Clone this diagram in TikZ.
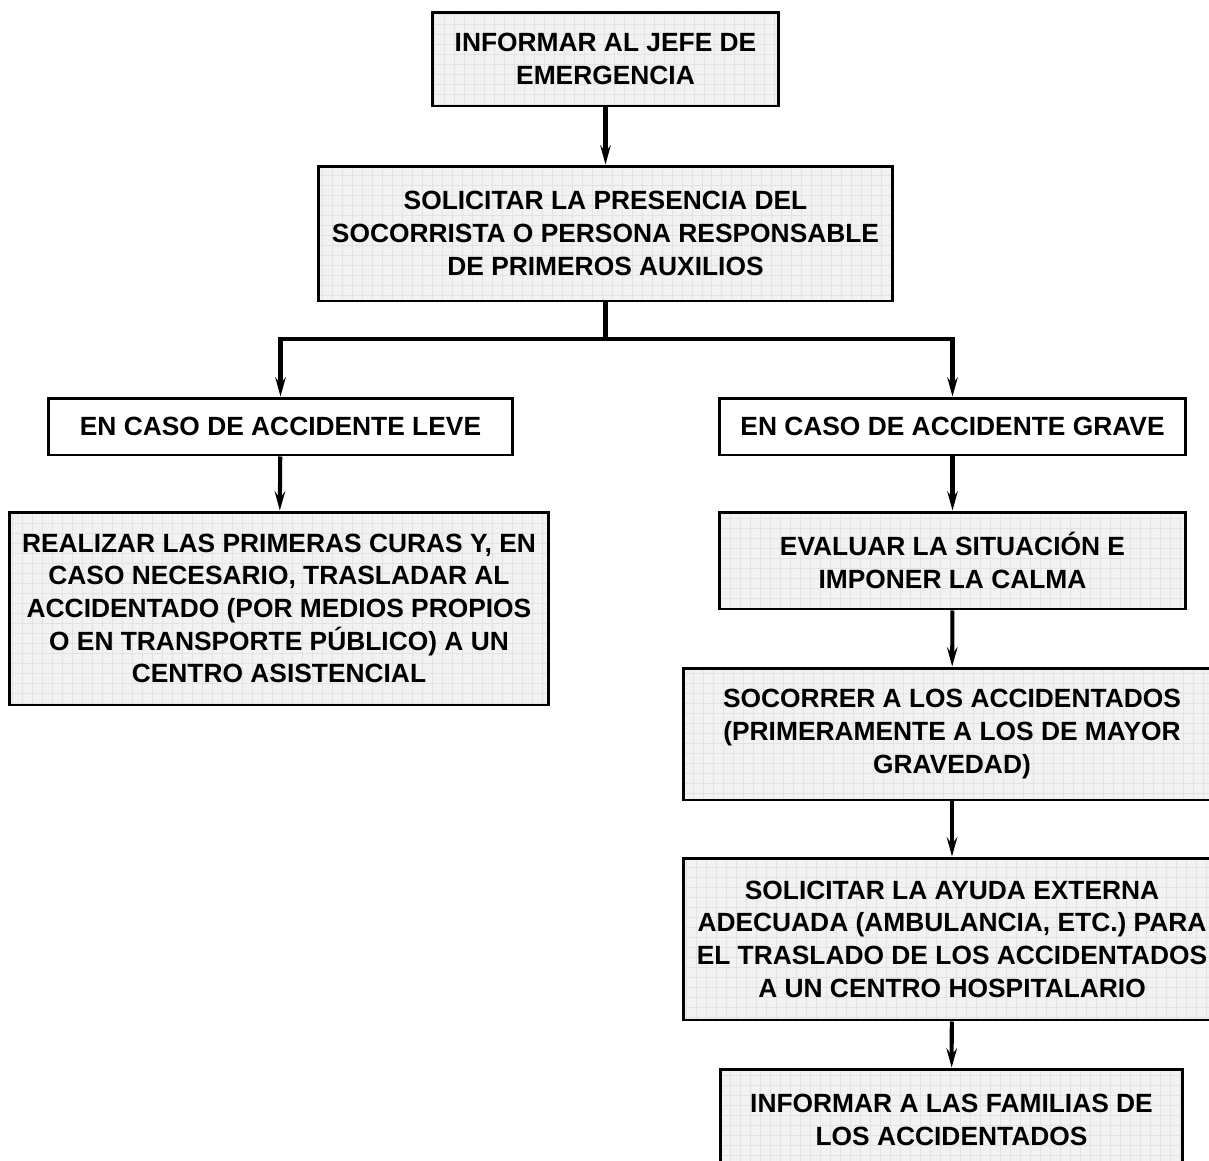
\documentclass[tikz,border=0pt]{standalone}
\usepackage{fontspec}
\setmainfont{Liberation Sans}
\usetikzlibrary{arrows.meta}

\begin{document}
\begin{tikzpicture}[
        x=0.02cm, y=-0.02cm, % one unit = one pixel of the sketch
        stepbox/.style={draw, line width=1.7pt, fill=black!5, align=center, inner sep=0pt,
            font=\fontsize{15}{18.6}\selectfont\bfseries,
            path picture={\draw[black!11, line width=0.4pt] (path picture bounding box.south west) grid[step=0.2cm] (path picture bounding box.north east);}}, % Grid box styling
        casebox/.style={draw, line width=1.7pt, fill=white, align=center, inner sep=0pt,
            font=\fontsize{15}{18.6}\selectfont\bfseries}, % Plain box styling
        link/.style={line width=2.3pt, -{Stealth[length=11pt, width=6pt, inset=4pt]}} % Arrow styling
        ]
        \useasboundingbox (0,0) rectangle (1209,1160);

        % Define nodes
        \node (jefe) [stepbox, minimum width=6.94cm, minimum height=1.88cm] at (605.5,59) {INFORMAR AL JEFE DE \\ EMERGENCIA};
        \node (socorrista) [stepbox, minimum width=11.5cm, minimum height=2.7cm] at (605.5,233.5) {SOLICITAR LA PRESENCIA DEL \\ SOCORRISTA O PERSONA RESPONSABLE \\ DE PRIMEROS AUXILIOS};
        \node (leve) [casebox, minimum width=9.3cm, minimum height=1.14cm] at (280.5,426.5) {EN CASO DE ACCIDENTE LEVE};
        \node (grave) [casebox, minimum width=9.34cm, minimum height=1.14cm] at (952.5,426.5) {EN CASO DE ACCIDENTE GRAVE};
        \node (curas) [stepbox, minimum width=10.8cm, minimum height=3.86cm] at (279,608.5) {REALIZAR LAS PRIMERAS CURAS Y, EN \\ CASO NECESARIO, TRASLADAR AL \\ ACCIDENTADO (POR MEDIOS PROPIOS \\ O EN TRANSPORTE PÚBLICO) A UN \\ CENTRO ASISTENCIAL};
        \node (evaluar) [stepbox, minimum width=9.34cm, minimum height=1.94cm] at (952.5,560.5) {EVALUAR LA SITUACIÓN E \\ IMPONER LA CALMA};
        \node (socorrer) [stepbox, minimum width=10.76cm, minimum height=2.64cm] at (952,734) {SOCORRER A LOS ACCIDENTADOS \\ (PRIMERAMENTE A LOS DE MAYOR \\ GRAVEDAD)};
        \node (ayuda) [stepbox, minimum width=10.76cm, minimum height=3.24cm] at (952,939) {SOLICITAR LA AYUDA EXTERNA \\ ADECUADA (AMBULANCIA, ETC.) PARA \\ EL TRASLADO DE LOS ACCIDENTADOS \\ A UN CENTRO HOSPITALARIO};
        \node (familias) [stepbox, minimum width=9.26cm, minimum height=2.04cm] at (951.5,1120) {INFORMAR A LAS FAMILIAS DE \\ LOS ACCIDENTADOS};
        \coordinate (split) at (605.5,339);

        % Draw arrows
        \draw[link] (jefe) -- (socorrista);
        \draw[line width=2.3pt] (socorrista.south) -- (split);
        \draw[link] (split) -| (leve.north);
        \draw[link] (split) -| (grave.north);

        \draw[link] (leve) -- (curas);

        \draw[link] (grave) -- (evaluar);
        \draw[link] (evaluar) -- (socorrer);
        \draw[link] (socorrer) -- (ayuda);
        \draw[link] (ayuda) -- (familias);

    \end{tikzpicture}
\end{document}
